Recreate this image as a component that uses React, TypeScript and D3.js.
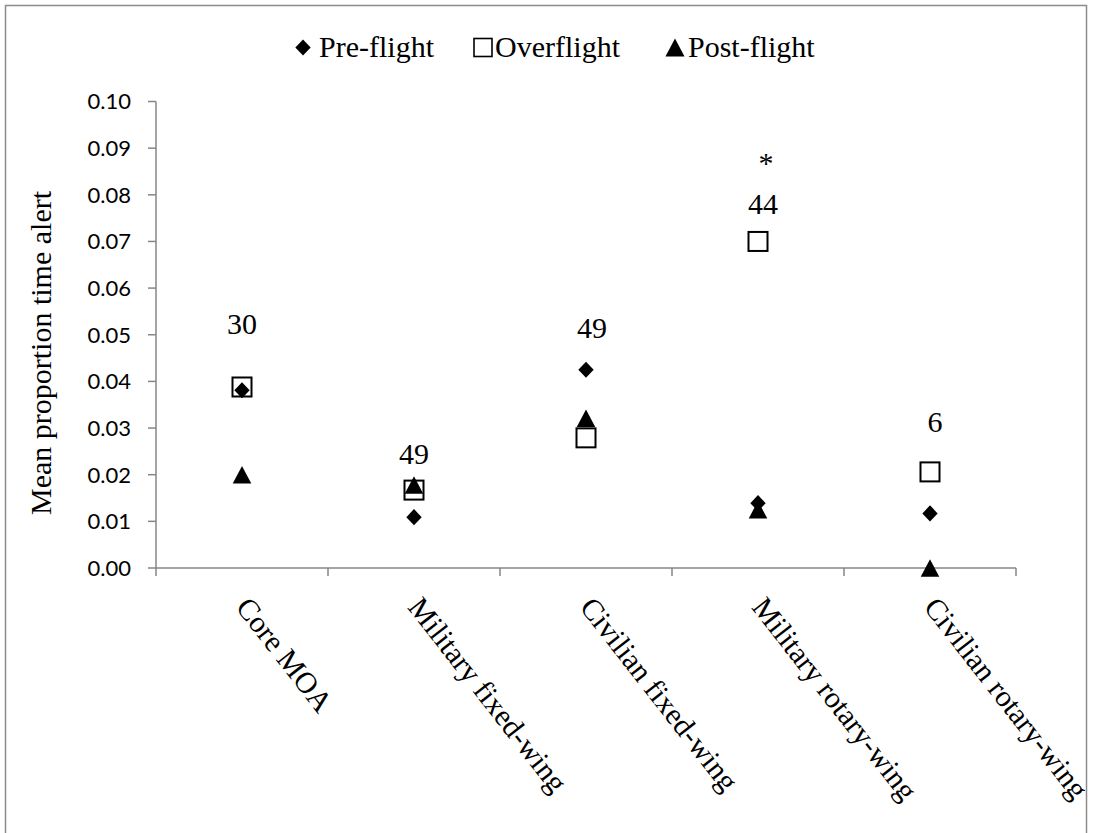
import React from "react";
import * as d3 from "d3";

const categories = ["Core MOA", "Military fixed-wing", "Civilian fixed-wing", "Military rotary-wing", "Civilian rotary-wing"];
const preFlight = [0.0381, 0.0109, 0.0425, 0.0139, 0.0117];
const overFlight = [0.0388, 0.0167, 0.0279, 0.07, 0.0206];
const postFlight = [0.02, 0.0178, 0.0321, 0.0125, 0.0];
const sampleSizes = ["30", "49", "49", "44", "6"];
const sampleLabelValues = [0.0502, 0.0223, 0.0493, 0.0759, 0.0291];
const yTicks = [0, 0.01, 0.02, 0.03, 0.04, 0.05, 0.06, 0.07, 0.08, 0.09, 0.1];

const W = 1094;
const H = 833;
const left = 156;
const right = 1016;
const top = 101.5;
const bottom = 568;
const axisColor = "#868686";
const serif = "'Liberation Serif', 'Times New Roman', serif";

export default function App() {
  const x = d3.scaleBand<string>().domain(categories).range([left, right]).padding(0);
  const y = d3.scaleLinear().domain([0, 0.1]).range([bottom, top]);
  const cx = (c: string) => (x(c) as number) + x.bandwidth() / 2;

  const diamond = d3.symbol().type(d3.symbolDiamond2).size(150)() as string;
  const tri = (s: number) => `M0,${-s * 0.5}L${s * 0.53},${s * 0.5}L${-s * 0.53},${s * 0.5}Z`;

  const boundaries = [...categories.map((c) => x(c) as number), right];

  return (
    <svg width={W} height={H} style={{ position: "absolute", left: 0, top: 0, background: "#fff" }}>
      <rect x={5.5} y={5.5} width={1081} height={850} fill="#fff" stroke="#8c8c8c" strokeWidth={1.5} />

      {/* Legend */}
      <g fontFamily={serif} fontSize={30} fill="#000">
        <path d={diamond} transform="translate(303,47.5) scale(1,1.05)" fill="#000" />
        <text x={319} y={57}>Pre-flight</text>
        <rect x={474} y={38.5} width={18} height={18} fill="none" stroke="#000" strokeWidth={1.6} />
        <text x={495} y={57}>Overflight</text>
        <path d={tri(18)} transform="translate(675,47.5)" fill="#000" />
        <text x={688} y={57}>Post-flight</text>
      </g>

      {/* Y axis */}
      <line x1={left} x2={left} y1={top} y2={bottom} stroke={axisColor} strokeWidth={1.5} />
      {yTicks.map((t) => (
        <g key={t}>
          <line x1={left - 8} x2={left} y1={y(t)} y2={y(t)} stroke={axisColor} strokeWidth={1.5} />
          <text x={131} y={y(t)} dy="0.36em" textAnchor="end" fontFamily="Lato, 'Open Sans', sans-serif" fontSize={22} fill="#000">
            {d3.format(".2f")(t)}
          </text>
        </g>
      ))}

      {/* X axis */}
      <line x1={left} x2={right} y1={bottom} y2={bottom} stroke={axisColor} strokeWidth={1.5} />
      {boundaries.map((b, i) => (
        <line key={i} x1={b} x2={b} y1={bottom} y2={bottom + 8} stroke={axisColor} strokeWidth={1.5} />
      ))}
      {categories.map((c) => (
        <text
          key={c}
          transform={`translate(${cx(c) + 1},601) rotate(52)`}
          dy="0.35em"
          fontFamily={serif}
          fontSize={30}
          fill="#000"
        >
          {c}
        </text>
      ))}

      {/* Y title */}
      <text transform="translate(51,353) rotate(-90)" textAnchor="middle" fontFamily={serif} fontSize={30} fill="#000">
        Mean proportion time alert
      </text>

      {/* Series */}
      {categories.map((c, i) => (
        <path key={"pre" + i} d={diamond} transform={`translate(${cx(c)},${y(preFlight[i])}) scale(1,1.05)`} fill="#000" />
      ))}
      {categories.map((c, i) => (
        <rect
          key={"over" + i}
          x={cx(c) - 9.5}
          y={y(overFlight[i]) - 9.5}
          width={19}
          height={19}
          fill="none"
          stroke="#000"
          strokeWidth={2}
        />
      ))}
      {categories.map((c, i) => (
        <path key={"post" + i} d={tri(17.5)} transform={`translate(${cx(c)},${y(postFlight[i])})`} fill="#000" />
      ))}

      {/* Sample size labels */}
      {categories.map((c, i) => (
        <text key={"n" + i} x={cx(c) + (i === 2 ? 6 : i === 4 ? 5 : i === 3 ? 5 : 0)} y={y(sampleLabelValues[i])} textAnchor="middle" fontFamily={serif} fontSize={30} fill="#000">
          {sampleSizes[i]}
        </text>
      ))}
      <text x={766} y={173} textAnchor="middle" fontFamily={serif} fontSize={30} fill="#000">
        *
      </text>
    </svg>
  );
}
